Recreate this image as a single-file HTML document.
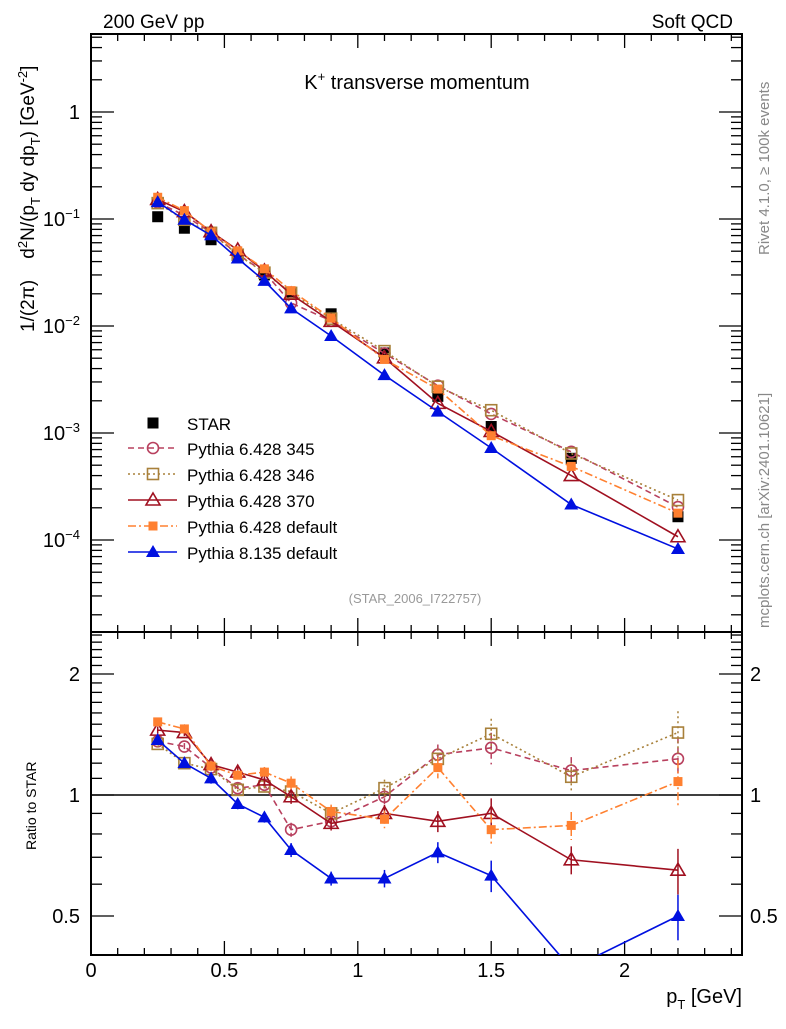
<!DOCTYPE html>
<html><head><meta charset="utf-8"><style>
body{margin:0;background:#fff;width:786px;height:1024px;overflow:hidden;font-family:"Liberation Sans",sans-serif}
svg text{font-family:"Liberation Sans","DejaVu Sans",sans-serif}
</style></head><body>
<svg id="c" width="786" height="1024" xmlns="http://www.w3.org/2000/svg">
<text x="103" y="28" font-size="19">200 GeV pp</text>
<text x="733" y="28" font-size="19" text-anchor="end">Soft QCD</text>
<text x="417" y="89" font-size="20" text-anchor="middle">K<tspan dy="-8" font-size="13">+</tspan><tspan dy="8"> transverse momentum</tspan></text>
<text x="415" y="603" font-size="13" fill="#999" text-anchor="middle">(STAR_2006_I722757)</text>
<text transform="translate(769,255) rotate(-90)" font-size="15" fill="#888">Rivet 4.1.0, ≥ 100k events</text>
<text transform="translate(769,628) rotate(-90)" font-size="15" fill="#888">mcplots.cern.ch [arXiv:2401.10621]</text>
<text transform="translate(34,332) rotate(-90)" font-size="19" xml:space="preserve">1/(2π)    d<tspan dy="-7" font-size="13">2</tspan><tspan dy="7">N/(p</tspan><tspan dy="6" font-size="13">T</tspan><tspan dy="-6"> dy dp</tspan><tspan dy="6" font-size="13">T</tspan><tspan dy="-6">) [GeV</tspan><tspan dy="-7" font-size="13">-2</tspan><tspan dy="7">]</tspan></text>
<text transform="translate(36,850) rotate(-90)" font-size="14">Ratio to STAR</text>
<text x="742" y="1003" font-size="20" text-anchor="end">p<tspan dy="6" font-size="13">T</tspan><tspan dy="-6"> [GeV]</tspan></text>
<g id="g"></g>
</svg>
<script>
const xs=[0.25,0.35,0.45,0.55,0.65,0.75,0.9,1.1,1.3,1.5,1.8,2.2];
const star=[0.105,0.082,0.064,0.045,0.030,0.020,0.013,0.0056,0.0022,0.00115,0.00058,0.000165];
const r345=[1.36,1.32,1.17,1.04,1.06,0.82,0.86,0.99,1.26,1.31,1.15,1.23];
const r346=[1.34,1.20,1.16,1.03,1.05,1.02,0.90,1.04,1.23,1.42,1.11,1.43];
const r370=[1.45,1.43,1.19,1.14,1.09,0.99,0.85,0.90,0.86,0.90,0.69,0.65];
const rdef=[1.52,1.46,1.18,1.12,1.14,1.07,0.91,0.87,1.17,0.82,0.84,1.08];
const rp8=[1.37,1.20,1.10,0.95,0.88,0.73,0.62,0.62,0.72,0.63,0.37,0.50];
const relErr=[0.02,0.02,0.03,0.03,0.03,0.04,0.04,0.05,0.06,0.09,0.08,0.13];
const ratioTicks=[0.5,1,2];
const xTicks=[0,0.5,1,1.5,2];
const xTickLabels=["0","0.5","1","1.5","2"];
const NS="http://www.w3.org/2000/svg";
const g=document.getElementById('g');
const X0=91,X1=742,MT=34,MB=632,RB=955;
const xmax=2.44;
const px=v=>X0+v/xmax*(X1-X0);
const py=v=>112-107*Math.log10(v);
const ry=v=>795-402*Math.log10(v);
function el(t,a,p){const e=document.createElementNS(NS,t);for(const k in a)e.setAttribute(k,a[k]);(p||g).appendChild(e);return e;}
const defs=el('defs',{});
const c1=el('clipPath',{id:'cm'},defs);el('rect',{x:X0,y:MT,width:X1-X0,height:MB-MT},c1);
const c2=el('clipPath',{id:'cr'},defs);el('rect',{x:X0,y:MB,width:X1-X0,height:RB-MB},c2);
let f=el('rect',{x:X0,y:MT,width:X1-X0,height:MB-MT,fill:'none',stroke:'#000','stroke-width':2});

f=el('rect',{x:X0,y:MB,width:X1-X0,height:RB-MB,fill:'none',stroke:'#000','stroke-width':2});

for(let i=0;i<=24;i++){const v=i*0.1;const x=px(v);const L=(i%5==0)?14:7;
 for(const [y,d] of [[MT,1],[MB,-1],[MB,1],[RB,-1]]){const t=el('line',{x1:x,x2:x,y1:y,y2:y+d*L,stroke:'#000','stroke-width':1.3});
 }}
xTicks.forEach((v,i)=>{const t=el('text',{x:px(v),y:977,'font-size':20,'text-anchor':'middle'});t.textContent=xTickLabels[i];
 });
for(let e=-5;e<=0;e++)for(let m=1;m<=9;m++){const v=m*Math.pow(10,e);const y=py(v);if(y<MT||y>MB)continue;const L=m==1?23:11;
 for(const [x,d] of [[X0,1],[X1,-1]]){const t=el('line',{x1:x,x2:x+d*L,y1:y,y2:y,stroke:'#000','stroke-width':1.3});
 }}
[0,-1,-2,-3,-4].forEach(e=>{const t=el('text',{x:80,y:py(Math.pow(10,e))+7,'font-size':20,'text-anchor':'end'});
 if(e==0)t.textContent='1';else{t.textContent='10';const s=el('tspan',{dy:-8,'font-size':13},t);s.textContent='−'+(-e);}
 });
for(let i=4;i<=25;i++){const v=i/10;const y=ry(v);if(y<MB||y>RB)continue;const maj=(v==0.5||v==1||v==2);const L=maj?23:11;
 for(const [x,d] of [[X0,1],[X1,-1]]){const t=el('line',{x1:x,x2:x+d*L,y1:y,y2:y,stroke:'#000','stroke-width':1.3});
 }}
ratioTicks.forEach(v=>{for(const [x,a] of [[80,'end'],[750,'start']]){const t=el('text',{x:x,y:ry(v)+7,'font-size':20,'text-anchor':a});t.textContent=String(v);
 }});
const one=el('line',{x1:X0,x2:X1,y1:ry(1),y2:ry(1),stroke:'#000','stroke-width':1.5});

function marker(par,type,x,y,col){
 const s=5.5;
 if(type=='sq')return el('rect',{x:x-s,y:y-s,width:2*s,height:2*s,fill:'#000'},par);
 if(type=='osq')return el('rect',{x:x-s,y:y-s,width:2*s,height:2*s,fill:'#fff','fill-opacity':0,stroke:col,'stroke-width':1.6},par);
 if(type=='fsq')return el('rect',{x:x-4.5,y:y-4.5,width:9,height:9,fill:col},par);
 if(type=='oc')return el('circle',{cx:x,cy:y,r:5.5,fill:'none',stroke:col,'stroke-width':1.6},par);
 if(type=='otri')return el('path',{d:`M${x},${y-7}L${x+7},${y+5}L${x-7},${y+5}Z`,fill:'none',stroke:col,'stroke-width':1.6},par);
 return el('path',{d:`M${x},${y-7}L${x+7},${y+5}L${x-7},${y+5}Z`,fill:col},par);
}
const series=[
 {n:'pythia-6428-345',lab:'Pythia 6.428 345',r:r345,col:'#b8405e',dash:'6,4',m:'oc'},
 {n:'pythia-6428-346',lab:'Pythia 6.428 346',r:r346,col:'#a8803a',dash:'2,3',m:'osq'},
 {n:'pythia-6428-370',lab:'Pythia 6.428 370',r:r370,col:'#a01020',dash:'',m:'otri'},
 {n:'pythia-6428-default',lab:'Pythia 6.428 default',r:rdef,col:'#ff8030',dash:'8,3,2,3',m:'fsq'},
 {n:'pythia-8135-default',lab:'Pythia 8.135 default',r:rp8,col:'#0010e0',dash:'',m:'ftri'}];
const sg=el('g',{'clip-path':'url(#cm)'});
xs.forEach((x,i)=>{const m=marker(sg,'sq',px(x),py(star[i]));});
series.forEach(s=>{
 const vals=star.map((v,i)=>v*s.r[i]);
 const gm=el('g',{'clip-path':'url(#cm)'});
 el('polyline',{points:xs.map((x,i)=>px(x)+','+py(vals[i])).join(' '),fill:'none',stroke:s.col,'stroke-width':1.6,'stroke-dasharray':s.dash},gm);
 xs.forEach((x,i)=>{const m=marker(gm,s.m,px(x),py(vals[i]),s.col);});
 const gr=el('g',{'clip-path':'url(#cr)'});
 el('polyline',{points:xs.map((x,i)=>px(x)+','+ry(s.r[i])).join(' '),fill:'none',stroke:s.col,'stroke-width':1.6,'stroke-dasharray':s.dash},gr);
 xs.forEach((x,i)=>{const v=s.r[i],e=v*relErr[i];
  el('line',{x1:px(x),x2:px(x),y1:ry(v+e),y2:ry(Math.max(v-e,0.01)),stroke:s.col,'stroke-width':1.5,'stroke-dasharray':s.dash},gr);
  const m=marker(gr,s.m,px(x),ry(v),s.col);});
});
const lg=el('g',{});
const ly=[423,448,474,500,526,552];
let le=el('g',{},lg);
marker(le,'sq',153,ly[0]);let t=el('text',{x:187,y:ly[0]+7,'font-size':17},le);t.textContent='STAR';
series.forEach((s,k)=>{const y=ly[k+1];const e=el('g',{},lg);
 el('line',{x1:128,x2:177,y1:y,y2:y,stroke:s.col,'stroke-width':1.6,'stroke-dasharray':s.dash},e);
 marker(e,s.m,153,y,s.col);const tt=el('text',{x:187,y:y+7,'font-size':17},e);tt.textContent=s.lab;});
</script>
</body></html>
